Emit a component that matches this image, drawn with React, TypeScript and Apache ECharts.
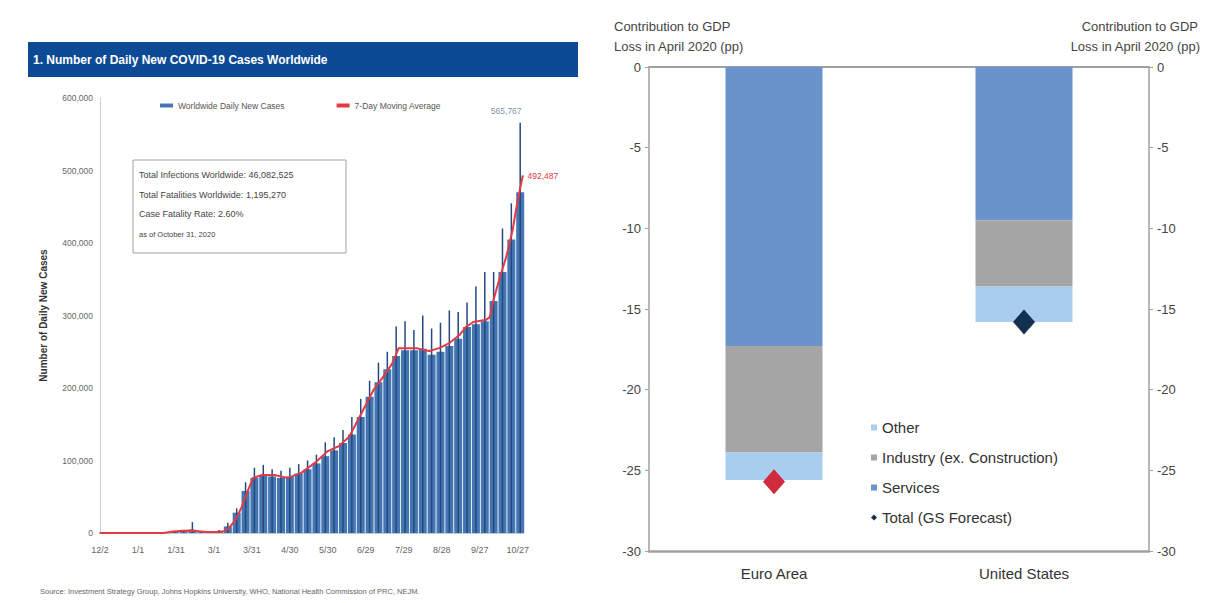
import React, { useEffect, useRef } from "react";
import * as echarts from "echarts";

const FONT = "'Liberation Sans', Arial, Helvetica, sans-serif";

// ---------- Left panel data ----------
const tickLabels = ["12/2", "1/1", "1/31", "3/1", "3/31", "4/30", "5/30", "6/29", "7/29", "8/28", "9/27", "10/27"];
// day index (0 = 12/2/2019) of the centre of each weekly column
const weekDays = [3, 10, 17, 24, 31, 38, 45, 52, 59, 66, 73, 80, 87, 94, 101, 108, 115, 122, 129, 136, 143, 150, 157, 164,
  171, 178, 185, 192, 199, 206, 213, 220, 227, 234, 241, 248, 255, 262, 269, 276, 283, 290, 297, 304, 311, 318, 325, 332];
const weeklyCases = [0, 0, 0, 0, 0, 0, 0, 300, 1800, 3200, 4500, 1200, 1600, 2800, 9000, 28000, 58000, 76000, 80000, 78000,
  76000, 78000, 82000, 88000, 96000, 106000, 114000, 124000, 136000, 160000, 188000, 208000, 226000, 244000, 252000,
  252000, 254000, 246000, 250000, 258000, 268000, 284000, 288000, 292000, 320000, 360000, 405000, 470000];
const weeklyPeaks = [0, 0, 0, 0, 0, 0, 0, 600, 3000, 4000, 15000, 2000, 2500, 4000, 14000, 34000, 70000, 90000, 94000, 88000,
  86000, 90000, 95000, 100000, 108000, 125000, 132000, 142000, 160000, 185000, 210000, 235000, 250000, 285000, 292000,
  280000, 300000, 282000, 290000, 307000, 305000, 318000, 340000, 360000, 360000, 420000, 455000, 565767];
const maDays = [0, 50, 58, 65, 72, 78, 85, 92, 98, 101, 107, 112, 117, 121, 128, 138, 148, 159, 170, 180, 189, 197, 208,
  216, 224, 231, 236, 250, 260, 268, 276, 284, 289, 295, 305, 308, 311, 316, 321, 326, 330, 334];
const maValues = [0, 100, 2000, 3000, 3500, 2500, 1500, 1500, 2500, 5000, 18000, 36000, 59000, 76000, 80000, 80000, 76000,
  83000, 97000, 113000, 120000, 133000, 170000, 197000, 216000, 234000, 255000, 255000, 251000, 255000, 262000, 273000,
  284000, 291000, 294000, 298000, 322000, 353000, 381000, 418000, 459000, 492487];
const infoLines = [
  "Total Infections Worldwide: 46,082,525",
  "Total Fatalities Worldwide: 1,195,270",
  "Case Fatality Rate: 2.60%",
];
const asOf = "as of October 31, 2020";

// ---------- Right panel data ----------
const regions = ["Euro Area", "United States"];
const services = [-17.3, -9.5];
const industry = [-6.6, -4.1];
const other = [-1.7, -2.2];
const total = [-25.7, -15.8];
const totalColors = ["#d02a3c", "#12304f"];

export default function App() {
  const ref = useRef<HTMLDivElement>(null);
  useEffect(() => {
    if (!ref.current) return;
    const chart = echarts.init(ref.current, null, { renderer: "svg" });
    const lastW = weekDays.length - 1;
    const lastM = maDays.length - 1;
    const fmt = (v: number) => v.toLocaleString("en-US");
    const option: any = {
      animation: false,
      backgroundColor: "#ffffff",
      textStyle: { fontFamily: FONT },
      grid: [
        { left: 100, top: 98, width: 424, height: 435 },
        { left: 649, top: 67, width: 500, height: 484 },
      ],
      legend: [
        {
          left: 155, top: 96, itemGap: 52, itemWidth: 13, itemHeight: 4,
          data: [{ name: "Worldwide Daily New Cases", icon: "rect" }, { name: "7-Day Moving Average", icon: "rect" }],
          textStyle: { fontSize: 8.5, color: "#555", fontFamily: FONT },
        },
        {
          orient: "vertical", left: 866, top: 415, itemGap: 15, itemWidth: 6, itemHeight: 6,
          data: [
            { name: "Other", icon: "rect" },
            { name: "Industry (ex. Construction)", icon: "rect" },
            { name: "Services", icon: "rect" },
            { name: "Total (GS Forecast)", icon: "diamond" },
          ],
          textStyle: { fontSize: 15, color: "#333", fontFamily: FONT },
        },
      ],
      xAxis: [
        {
          type: "value", gridIndex: 0, min: 0, max: 335, interval: 30,
          axisLine: { show: true, onZero: false, lineStyle: { color: "#c8c8c8" } },
          axisTick: { show: false }, splitLine: { show: false },
          axisLabel: {
            fontSize: 9, color: "#666", margin: 12, showMaxLabel: false,
            formatter: (v: number) => (v % 30 === 0 && tickLabels[v / 30]) ? tickLabels[v / 30] : "",
          },
        },
        { type: "value", gridIndex: 0, min: 0, max: 335, show: false },
        {
          type: "category", gridIndex: 1, data: regions, position: "bottom",
          axisLine: { onZero: false, lineStyle: { color: "#a0a0a0", width: 2.5 } },
          axisTick: { show: false },
          axisLabel: { fontSize: 15, color: "#333", margin: 15 },
        },
        {
          type: "category", gridIndex: 1, data: regions, position: "top",
          axisLine: { onZero: false, lineStyle: { color: "#a0a0a0", width: 2 } },
          axisTick: { show: false }, axisLabel: { show: false },
        },
      ],
      yAxis: [
        {
          type: "value", gridIndex: 0, min: 0, max: 600000, interval: 100000,
          name: "Number of Daily New Cases", nameLocation: "middle", nameGap: 52,
          nameTextStyle: { fontSize: 10, fontWeight: "bold", color: "#333" },
          axisLine: { show: true, lineStyle: { color: "#d0d0d0" } },
          axisTick: { show: false }, splitLine: { show: false },
          axisLabel: { fontSize: 8.5, color: "#666", margin: 7, formatter: fmt },
        },
        {
          type: "value", gridIndex: 1, min: -30, max: 0, interval: 5, position: "left",
          axisLine: { show: true, lineStyle: { color: "#a0a0a0", width: 1.5 } },
          axisTick: { show: true, length: 4, lineStyle: { color: "#a0a0a0" } },
          splitLine: { show: false },
          axisLabel: { fontSize: 13, color: "#444", margin: 8 },
        },
        {
          type: "value", gridIndex: 1, min: -30, max: 0, interval: 5, position: "right",
          axisLine: { show: true, lineStyle: { color: "#a0a0a0", width: 1.5 } },
          axisTick: { show: true, length: 4, lineStyle: { color: "#a0a0a0" } },
          splitLine: { show: false },
          axisLabel: { fontSize: 13, color: "#444", margin: 8 },
        },
      ],
      series: [
        {
          type: "bar", name: "Worldwide Daily New Cases", xAxisIndex: 0, yAxisIndex: 0, barWidth: 8, z: 2,
          itemStyle: { color: "#4476b3" },
          data: weekDays.map((d, i) => [d, weeklyCases[i]]),
        },
        {
          type: "bar", name: "Daily peak", xAxisIndex: 1, yAxisIndex: 0, barWidth: 1.5, z: 3,
          itemStyle: { color: "#24497e" },
          data: weekDays.map((d, i) => ({
            value: [d, weeklyPeaks[i]],
            label: i === lastW
              ? { show: true, position: "top", offset: [-14, -2], fontSize: 8.5, color: "#7f93ab", formatter: (p: any) => fmt(p.value[1]) }
              : { show: false },
          })),
        },
        {
          type: "line", name: "7-Day Moving Average", xAxisIndex: 0, yAxisIndex: 0, z: 4,
          symbol: "circle", symbolSize: 1.5, showSymbol: true,
          lineStyle: { color: "#e23b45", width: 2 }, itemStyle: { color: "#e23b45" },
          data: maDays.map((d, i) => ({
            value: [d, maValues[i]],
            label: i === lastM
              ? { show: true, position: "right", distance: 4, fontSize: 8.5, color: "#e23b45", formatter: (p: any) => fmt(p.value[1]) }
              : { show: false },
          })),
        },
        {
          type: "bar", name: "Services", xAxisIndex: 2, yAxisIndex: 1, stack: "gdp", barWidth: 97,
          itemStyle: { color: "#6a93cb" }, data: services,
        },
        {
          type: "bar", name: "Industry (ex. Construction)", xAxisIndex: 2, yAxisIndex: 1, stack: "gdp", barWidth: 97,
          itemStyle: { color: "#a5a5a5" }, data: industry,
        },
        {
          type: "bar", name: "Other", xAxisIndex: 2, yAxisIndex: 1, stack: "gdp", barWidth: 97,
          itemStyle: { color: "#a9cdee" }, data: other,
        },
        {
          type: "scatter", name: "Total (GS Forecast)", xAxisIndex: 2, yAxisIndex: 1, z: 5,
          symbol: "diamond", symbolSize: [22, 25], itemStyle: { color: "#12304f", opacity: 1 },
          data: total.map((v, i) => ({ value: v, itemStyle: { color: totalColors[i], opacity: 1 } })),
        },
      ],
      graphic: [
        { type: "rect", shape: { x: 28, y: 42, width: 550, height: 35 }, style: { fill: "#0d4a96" }, z: 10 },
        {
          type: "text", x: 33, y: 60, z: 11,
          style: { text: "1. Number of Daily New COVID-19 Cases Worldwide", fill: "#ffffff", font: `bold 12px ${FONT}`, verticalAlign: "middle" },
        },
        { type: "rect", shape: { x: 133, y: 160, width: 213, height: 93 }, style: { fill: "#ffffff", stroke: "#a0a0a0", lineWidth: 1 }, z: 10 },
        ...infoLines.map((t, i) => ({
          type: "text", x: 139, y: 175 + i * 19.5, z: 11,
          style: { text: t, fill: "#444", font: `9px ${FONT}`, verticalAlign: "middle" },
        })),
        { type: "text", x: 139, y: 234, z: 11, style: { text: asOf, fill: "#444", font: `7.5px ${FONT}`, verticalAlign: "middle" } },
        {
          type: "text", x: 40, y: 591, z: 11,
          style: { text: "Source: Investment Strategy Group, Johns Hopkins University, WHO, National Health Commission of PRC, NEJM.", fill: "#666", font: `7.5px ${FONT}`, verticalAlign: "middle" },
        },
        { type: "text", x: 614, y: 26, z: 11, style: { text: "Contribution to GDP", fill: "#444", font: `13px ${FONT}`, verticalAlign: "middle" } },
        { type: "text", x: 614, y: 46, z: 11, style: { text: "Loss in April 2020 (pp)", fill: "#444", font: `13px ${FONT}`, verticalAlign: "middle" } },
        { type: "text", x: 1198, y: 26, z: 11, style: { text: "Contribution to GDP", fill: "#444", font: `13px ${FONT}`, align: "right", verticalAlign: "middle" } },
        { type: "text", x: 1200, y: 46, z: 11, style: { text: "Loss in April 2020 (pp)", fill: "#444", font: `13px ${FONT}`, align: "right", verticalAlign: "middle" } },
      ],
    };
    chart.setOption(option);
    return () => chart.dispose();
  }, []);
  return <div ref={ref} style={{ position: "absolute", left: 0, top: 0, width: 1210, height: 603 }} />;
}
